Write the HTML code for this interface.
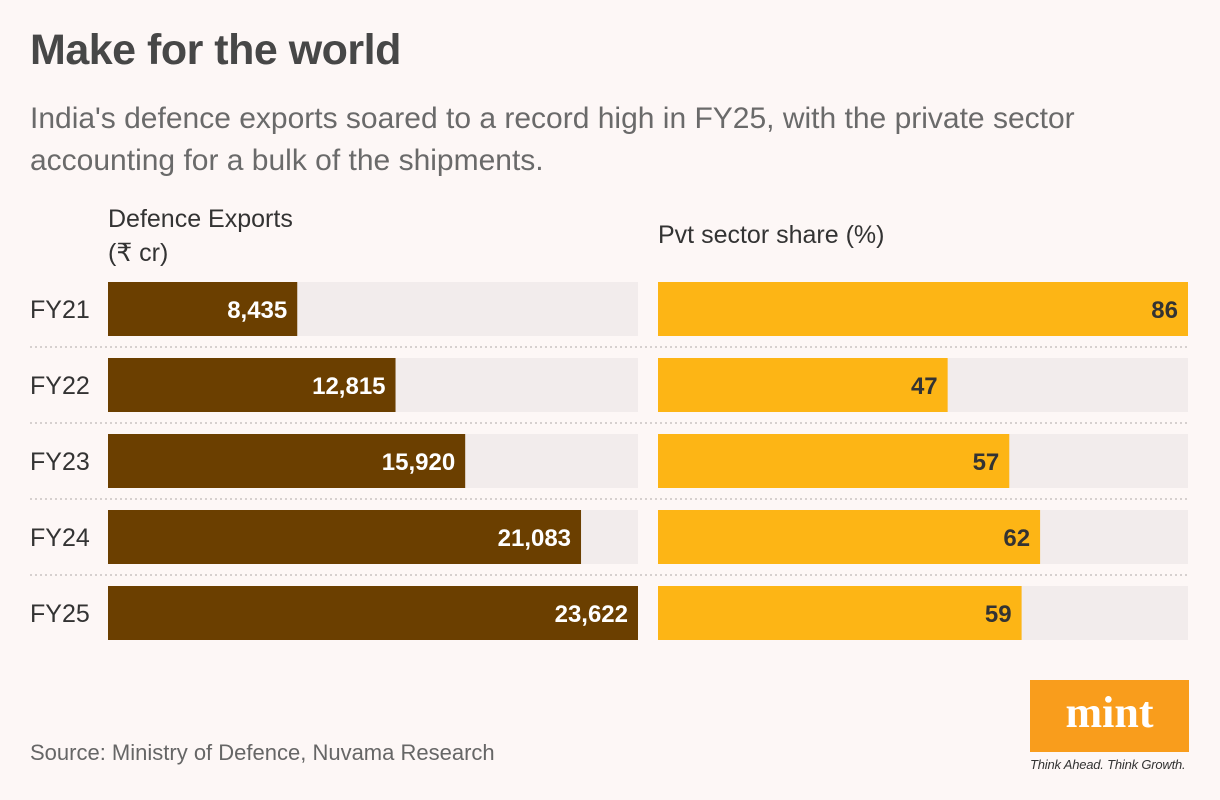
<!DOCTYPE html>
<html><head><meta charset="utf-8"><style>
body{margin:0;width:1220px;height:800px;background:#fdf7f6;font-family:"Liberation Sans",sans-serif;position:relative;overflow:hidden}
.t{position:absolute;white-space:nowrap}
</style></head><body>
<div class="t" style="left:30px;top:26px;font-size:43px;font-weight:bold;color:#474747;letter-spacing:-0.5px">Make for the world</div>
<div class="t" style="left:30px;top:98px;font-size:30px;color:#6a6a6a;line-height:42px">India's defence exports soared to a record high in FY25, with the private sector<br>accounting for a bulk of the shipments.</div>
<div class="t" style="left:108px;top:202px;font-size:25px;color:#333;line-height:34px">Defence Exports<br>(₹ cr)</div>
<div class="t" style="left:658px;top:221px;font-size:25px;color:#333">Pvt sector share (%)</div>
<svg id="c" width="1220" height="800" style="position:absolute;left:0;top:0"></svg>
<div class="t" style="left:30px;top:740px;font-size:22px;color:#666">Source: Ministry of Defence, Nuvama Research</div>
<div class="t" style="left:1030px;top:680px;width:159px;height:72px;background:#f99d1c;color:#fff;font-family:'Liberation Serif',serif;font-weight:bold;font-size:44px;text-align:center;line-height:66px">mint</div>
<div class="t" style="left:1030px;top:757px;font-size:13px;font-style:italic;color:#333;letter-spacing:-0.2px">Think Ahead. Think Growth.</div>
<script>
const categories=["FY21","FY22","FY23","FY24","FY25"];
const exportsVals=[8435,12815,15920,21083,23622];
const shareVals=[86,47,57,62,59];
const exportsMax=23622, shareMax=86;
const svg=document.getElementById('c');const NS='http://www.w3.org/2000/svg';
function mk(t,a){const e=document.createElementNS(NS,t);for(const k in a)e.setAttribute(k,a[k]);svg.appendChild(e);return e;}
const y=i=>282+i*76, W=530, H=54;
const xl=v=>v/exportsMax*W, xr=v=>v/shareMax*W;
categories.forEach((c,i)=>{
 const lb=mk('text',{x:30,y:y(i)+36,'font-size':25,fill:'#333'});lb.textContent=c;
 
 
 if(i>0){const s=mk('line',{x1:30,x2:1188,y1:y(i)-11,y2:y(i)-11,stroke:'#d6d0cf','stroke-width':2,'stroke-dasharray':'2 3'});
 
 }
 const t1=mk('rect',{x:108,y:y(i),width:W,height:H,fill:'#f2ecec'});
 
 
 const b1=mk('rect',{x:108,y:y(i),width:xl(exportsVals[i]),height:H,fill:'#6b3f00'});
 
 
 const v1=mk('text',{x:108+xl(exportsVals[i])-10,y:y(i)+36,'text-anchor':'end','font-size':24,'font-weight':'bold',fill:'#fff'});
 v1.textContent=exportsVals[i].toLocaleString('en-US');
 
 
 const t2=mk('rect',{x:658,y:y(i),width:W,height:H,fill:'#f2ecec'});
 
 
 const b2=mk('rect',{x:658,y:y(i),width:xr(shareVals[i]),height:H,fill:'#fdb515'});
 
 
 const v2=mk('text',{x:658+xr(shareVals[i])-10,y:y(i)+36,'text-anchor':'end','font-size':24,'font-weight':'bold',fill:'#333'});
 v2.textContent=shareVals[i];
 
 
});
</script>
</body></html>
